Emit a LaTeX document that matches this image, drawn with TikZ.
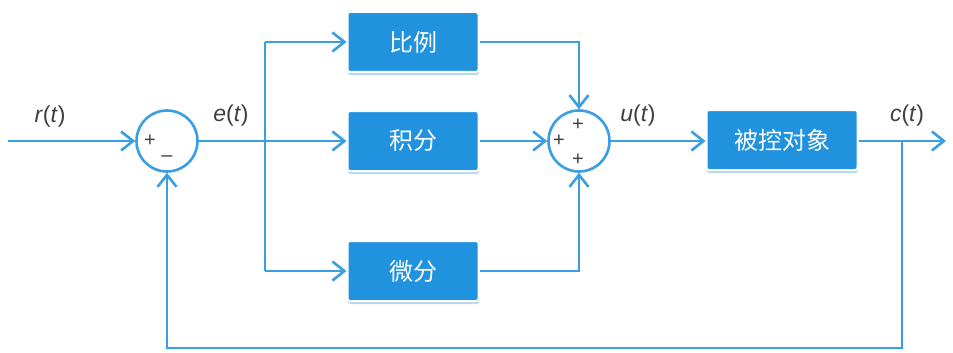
\documentclass[tikz,border=0pt]{standalone}
\usepackage{fontspec}
\setmainfont{Liberation Sans}
\newfontfamily\cjk{Noto Sans CJK SC}
\usetikzlibrary{arrows.meta,shadows,calc}
\definecolor{lineblue}{RGB}{58,158,226}
\definecolor{boxblue}{RGB}{32,146,222}
\begin{document}
\begin{tikzpicture}[x=1pt,y=-1pt,
  conn/.style={draw=lineblue,line width=2.6pt},
  arr/.style={conn,-{Straight Barb[length=12pt,width=19pt,line width=2.6pt]}},
  sumc/.style={circle,draw=lineblue,line width=2.6pt,fill=white,minimum size=61pt,inner sep=0pt},
  blk/.style={rectangle,rounded corners=2.5pt,fill=boxblue,draw=white,line width=2pt,
    minimum width=131pt,minimum height=60pt,text=white,
    font=\cjk\fontsize{24}{24}\selectfont,
    drop shadow={fill=lineblue!55,opacity=0.7,shadow xshift=0.5pt,shadow yshift=-3pt}},
  lab/.style={font=\fontsize{23}{23}\selectfont,text=black!75},
  sgn/.style={font=\fontsize{20}{20}\selectfont,text=black!75,inner sep=0pt}]
\fill[white] (0,0) rectangle (953,353);
\useasboundingbox (0,0) rectangle (953,353);
\coordinate (in) at (8,141);
\node[sumc] (s1) at (167,141) {};
\node[sgn] (p1) at (150,141) {+};
\node[sgn] (m1) at (167,159) {--};
\coordinate (br) at (265,141);
\node[blk] (P) at (413,42) {比例};
\node[blk] (I) at (413,141) {积分};
\node[blk] (D) at (413,271) {微分};
\node[sumc] (s2) at (579,141) {};
\node[sgn] (q1) at (578,125) {+};
\node[sgn] (q2) at (559,141) {+};
\node[sgn] (q3) at (578,160) {+};
\node[blk,minimum width=151pt] (G) at (782,140) {被控对象};
\coordinate (tap) at (902,141);
\coordinate (out) at (946,141);
\coordinate (fb) at (902,348);
\node[lab] (rl) at (50,117) {\textit{r}(\textit{t})};
\node[lab] (el) at (231,116) {\textit{e}(\textit{t})};
\node[lab] (ul) at (638,116) {\textit{u}(\textit{t})};
\node[lab] (cl) at (907,116) {\textit{c}(\textit{t})};
\draw[arr] (in) -- (s1.west);
\draw[arr] (s1.east) -- (I.west);
\draw[conn] (br |- P.west) -- (br |- D.west);
\draw[arr] (br |- P.west) -- (P.west);
\draw[arr] (br |- D.west) -- (D.west);
\draw[arr] (I.east) -- (s2.west);
\draw[arr] (P.east) -| (s2.north);
\draw[arr] (D.east) -| (s2.south);
\draw[arr] (s2.east) -- (G.west |- s2.east);
\draw[arr] (G.east |- tap) -- (out);
\draw[arr] (tap) -- (fb) -| (s1.south);
\end{tikzpicture}
\end{document}
